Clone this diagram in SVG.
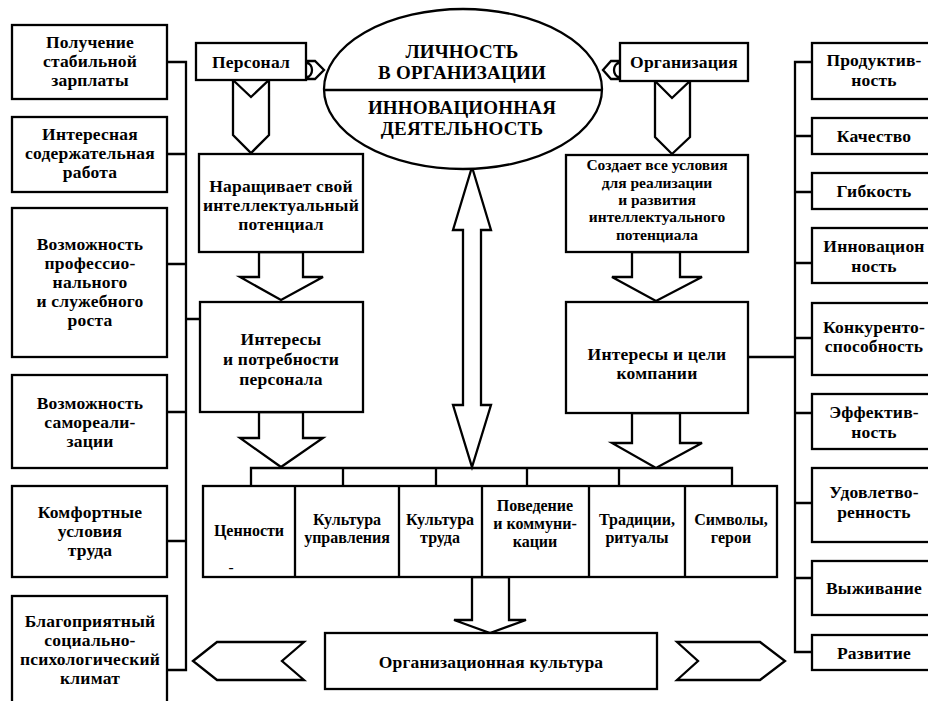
<svg xmlns="http://www.w3.org/2000/svg" width="928" height="701" viewBox="0 0 928 701">
<style>
.b{fill:#fff;stroke:#000;stroke-width:2.3}
.l{fill:none;stroke:#000;stroke-width:2.3}
.a{fill:#fff;stroke:#000;stroke-width:2.3;stroke-linejoin:miter}
text{font-family:"Liberation Serif","Times New Roman","DejaVu Serif",serif;font-weight:bold;font-size:17.5px;letter-spacing:0.2px;text-anchor:middle;fill:#000}
.big{font-size:19px}
.s{font-size:15.5px;letter-spacing:0}
.c{font-size:16px;letter-spacing:0}
</style>
<rect width="928" height="701" fill="#fff"/>
<g id="connectors">
<path class="l" d="M167,62H186V670H167M167,154H186M167,264H186M167,412H186M167,541H186M186,319H200"/>
<path class="l" d="M812,62H795V652H812M795,136H812M795,192H812M795,263H812M795,338H812M795,413H812M795,503H812M795,578H812M748,357H795"/>
<path class="l" d="M251,486V468H732V486M343,468V486M436,468V486M527,468V486M619,468V486"/>
<path class="l" d="M306,61H315L324,70L315,79H306M307,63A5,7 0 0 1 307,77"/>
<path class="l" d="M620,61H611L603,70L611,79H620M619,63A5,7 0 0 0 619,77"/>
<polygon class="a" points="233,80 251,97 269,80 269,135 251,153 233,135"/>
<polygon class="a" points="655,81 672,98 690,81 690,137 672,154 655,137"/>
<polygon class="a" points="259,252 303,252 303,277 323,277 281,300 240,277 259,277"/>
<polygon class="a" points="259,412 303,412 303,438 323,438 281,467 240,438 259,438"/>
<polygon class="a" points="632,252 680,252 680,277 702,277 656,301 612,277 632,277"/>
<polygon class="a" points="632,413 680,413 680,443 702,443 656,468 612,443 632,443"/>
<polygon class="a" points="472,167 491,230 481,230 481,405 491,405 472,467 453,405 463,405 463,230 453,230"/>
<polygon class="a" points="472,577 509,577 509,620 526,620 490,633 454,620 472,620"/>
<polygon class="a" points="193,661 217,642 304,642 282,661 304,680 217,680"/>
<polygon class="a" points="677,642 760,642 785,661 760,680 677,680 698,661"/>
</g>
<g id="center">
<ellipse class="b" cx="463" cy="89" rx="139" ry="80"/>
<line class="l" x1="324" y1="90" x2="602" y2="90"/>
<text class="big" x="462" y="58">ЛИЧНОСТЬ</text>
<text class="big" x="462" y="79">В ОРГАНИЗАЦИИ</text>
<text class="big" x="462" y="114">ИННОВАЦИОННАЯ</text>
<text class="big" x="462" y="135">ДЕЯТЕЛЬНОСТЬ</text>
</g>
<g id="personal"><rect class="b" x="196" y="43" width="110" height="37"/><text x="251" y="68">Персонал</text></g>
<g id="organization"><rect class="b" x="620" y="43" width="128" height="38"/><text x="684" y="68">Организация</text></g>
<g id="naraschivaet"><rect class="b" x="199" y="154" width="164" height="98"/>
<text x="281" y="192">Наращивает свой</text><text x="281" y="211">интеллектуальный</text><text x="281" y="230">потенциал</text></g>
<g id="interesy-personala"><rect class="b" x="200" y="302" width="163" height="110"/>
<text x="281" y="345">Интересы</text><text x="281" y="365">и потребности</text><text x="281" y="385">персонала</text></g>
<g id="sozdaet"><rect class="b" x="566" y="155" width="182" height="97"/>
<text class="s" x="657" y="170">Создает все условия</text><text class="s" x="657" y="188">для реализации</text><text class="s" x="657" y="205">и развития</text><text class="s" x="657" y="222">интеллектуального</text><text class="s" x="657" y="240">потенциала</text></g>
<g id="interesy-kompanii"><rect class="b" x="566" y="302" width="182" height="111"/>
<text x="657" y="360">Интересы и цели</text><text x="657" y="379">компании</text></g>
<g id="culture-row">
<rect class="b" x="203" y="486" width="574" height="91"/>
<path class="l" d="M295,486V577M399,486V577M482,486V577M589,486V577M685,486V577"/>
<text class="c" x="249" y="536">Ценности</text><text x="231" y="572" class="s">-</text>
<text class="c" x="347" y="525">Культура</text><text class="c" x="347" y="543">управления</text>
<text class="c" x="440" y="525">Культура</text><text class="c" x="440" y="543">труда</text>
<text class="c" x="535" y="511">Поведение</text><text class="c" x="535" y="529">и коммуни-</text><text class="c" x="535" y="547">кации</text>
<text class="c" x="637" y="525">Традиции,</text><text class="c" x="637" y="543">ритуалы</text>
<text class="c" x="731" y="525">Символы,</text><text class="c" x="731" y="543">герои</text>
</g>
<g id="org-culture"><rect class="b" x="325" y="633" width="332" height="56"/><text x="491" y="668">Организационная культура</text></g>
<g id="l1"><rect class="b" x="12" y="25" width="155" height="74"/><text x="90" y="48">Получение</text><text x="90" y="67">стабильной</text><text x="90" y="86">зарплаты</text></g>
<g id="l2"><rect class="b" x="12" y="117" width="155" height="75"/><text x="90" y="140">Интересная</text><text x="90" y="159">содержательная</text><text x="90" y="178">работа</text></g>
<g id="l3"><rect class="b" x="12" y="208" width="155" height="149"/><text x="90" y="250">Возможность</text><text x="90" y="269">профессио-</text><text x="90" y="288">нального</text><text x="90" y="307">и служебного</text><text x="90" y="326">роста</text></g>
<g id="l4"><rect class="b" x="12" y="375" width="155" height="93"/><text x="90" y="409">Возможность</text><text x="90" y="428">самореали-</text><text x="90" y="447">зации</text></g>
<g id="l5"><rect class="b" x="12" y="486" width="155" height="91"/><text x="90" y="518">Комфортные</text><text x="90" y="537">условия</text><text x="90" y="556">труда</text></g>
<g id="l6"><rect class="b" x="12" y="596" width="155" height="115"/><text x="90" y="627">Благоприятный</text><text x="90" y="646">социально-</text><text x="90" y="665">психологический</text><text x="90" y="684">климат</text></g>
<g id="r1"><rect class="b" x="812" y="43" width="130" height="56"/><text x="874" y="66">Продуктив-</text><text x="874" y="86">ность</text></g>
<g id="r2"><rect class="b" x="812" y="118" width="130" height="36"/><text x="874" y="142">Качество</text></g>
<g id="r3"><rect class="b" x="812" y="173" width="130" height="36"/><text x="874" y="197">Гибкость</text></g>
<g id="r4"><rect class="b" x="812" y="228" width="130" height="55"/><text x="874" y="252">Инновацион</text><text x="874" y="272">ность</text></g>
<g id="r5"><rect class="b" x="812" y="303" width="130" height="72"/><text x="874" y="333">Конкуренто-</text><text x="874" y="352">способность</text></g>
<g id="r6"><rect class="b" x="812" y="394" width="130" height="55"/><text x="874" y="418">Эффектив-</text><text x="874" y="438">ность</text></g>
<g id="r7"><rect class="b" x="812" y="468" width="130" height="74"/><text x="874" y="498">Удовлетво-</text><text x="874" y="518">ренность</text></g>
<g id="r8"><rect class="b" x="812" y="561" width="130" height="54"/><text x="874" y="594">Выживание</text></g>
<g id="r9"><rect class="b" x="812" y="635" width="130" height="35"/><text x="874" y="659">Развитие</text></g>
</svg>
